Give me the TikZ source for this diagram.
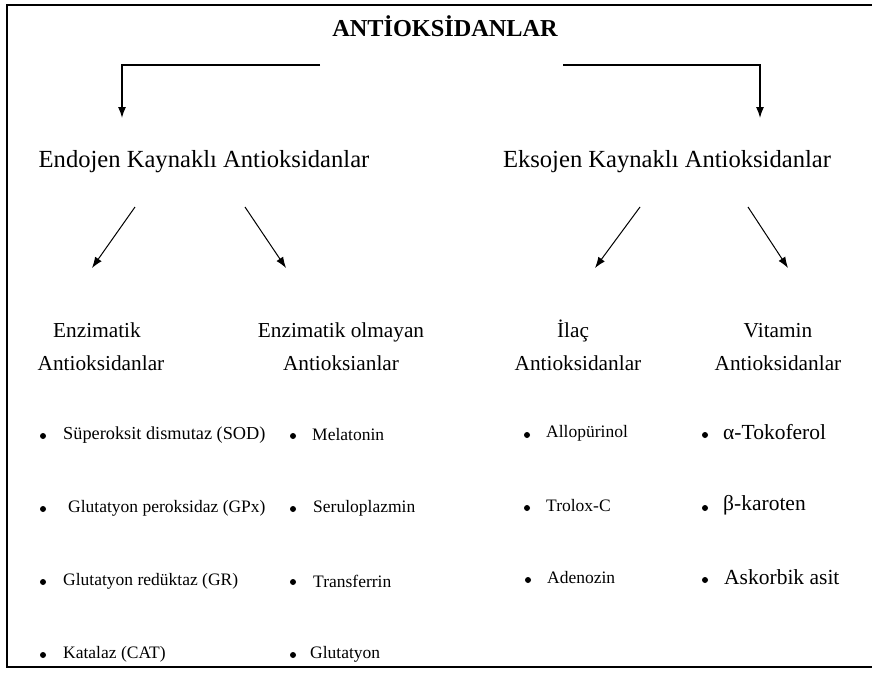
\documentclass[tikz,border=0pt]{standalone}
\usepackage{fontspec}
\setmainfont{Liberation Serif}
\usetikzlibrary{arrows.meta}

\tikzset{
  baslik/.style={font=\fontsize{21.3}{25}\selectfont, inner sep=0pt, anchor=base},
  ustbaslik/.style={font=\fontsize{24.6}{29}\selectfont, inner sep=0pt, anchor=base},
  madde/.style={font=\fontsize{17.5}{21}\selectfont, inner sep=0pt, anchor=west},
  buyukmadde/.style={font=\fontsize{21.5}{25}\selectfont, inner sep=0pt, anchor=west},
  nokta/.style={circle, fill=black, inner sep=0pt, minimum size=6pt},
}

\begin{document}
\begin{tikzpicture}[x=1pt, y=-1pt, >={Latex[length=11pt,width=8pt]}]

    \useasboundingbox (0,0) rectangle (872,673);

    % 1. Cerceve
    \draw[line width=2.5pt] (872,5) -- (7,5) -- (7,667) -- (872,667);

    % 2. Ana baslik
    \node[baslik, font=\fontsize{24.3}{28}\selectfont\bfseries] (ana) at (445,36) {ANT\.IOKS\.IDANLAR};

    % 3. Endojen / Eksojen
    \node[ustbaslik] (endo) at (204,167) {Endojen Kaynaklı Antioksidanlar};
    \node[ustbaslik] (ekso) at (667,167) {Eksojen Kaynaklı Antioksidanlar};

    \coordinate (sol) at (320,65);
    \coordinate (sag) at (563,65);
    \coordinate (solok) at (122,118);
    \coordinate (sagok) at (760,118);
    \draw[->, line width=1.3pt] (sol) -| (solok);
    \draw[->, line width=1.3pt] (sag) -| (sagok);

    % 4. Capraz oklar
    \coordinate (e1) at (135,207); \coordinate (e1u) at (92,268);
    \coordinate (e2) at (245,207); \coordinate (e2u) at (286,268);
    \coordinate (k1) at (640,207); \coordinate (k1u) at (595,268);
    \coordinate (k2) at (748,207); \coordinate (k2u) at (788,268);
    \draw[->, line width=1pt] (e1) -- (e1u);
    \draw[->, line width=1pt] (e2) -- (e2u);
    \draw[->, line width=1pt] (k1) -- (k1u);
    \draw[->, line width=1pt] (k2) -- (k2u);

    % 5. Alt basliklar
    \node[baslik] (enz1) at (97,337) {Enzimatik};
    \node[baslik] (enz2) at (101,370) {Antioksidanlar};
    \node[baslik] (olm1) at (341,337) {Enzimatik olmayan};
    \node[baslik] (olm2) at (341,370) {Antioksianlar};
    \node[baslik] (ilc1) at (573,337) {İlaç};
    \node[baslik] (ilc2) at (578,370) {Antioksidanlar};
    \node[baslik] (vit1) at (778,337) {Vitamin};
    \node[baslik] (vit2) at (778,370) {Antioksidanlar};

    % 6. Maddeler
    \node[nokta] (n1) at (43,436) {};
    \node[madde, font=\fontsize{18.3}{21}\selectfont] (m1) at (63,435) {Süperoksit dismutaz (SOD)};
    \node[nokta] (n2) at (43,509) {};
    \node[madde] (m2) at (68,508) {Glutatyon peroksidaz (GPx)};
    \node[nokta] (n3) at (43,582) {};
    \node[madde] (m3) at (63,581) {Glutatyon redüktaz (GR)};
    \node[nokta] (n4) at (43,655) {};
    \node[madde] (m4) at (63,654) {Katalaz (CAT)};

    \node[nokta] (n5) at (293,436) {};
    \node[madde] (m5) at (312,435) {Melatonin};
    \node[nokta] (n6) at (293,509) {};
    \node[madde] (m6) at (313,508) {Seruloplazmin};
    \node[nokta] (n7) at (293,582) {};
    \node[madde] (m7) at (313,581) {Transferrin};
    \node[nokta] (n8) at (293,655) {};
    \node[madde] (m8) at (310,654) {Glutatyon};

    \node[nokta] (n9) at (527,435) {};
    \node[madde] (m9) at (546,433) {Allopürinol};
    \node[nokta] (n10) at (527,508) {};
    \node[madde] (m10) at (546,506) {Trolox-C};
    \node[nokta] (n11) at (528,580) {};
    \node[madde] (m11) at (547,578) {Adenozin};

    \node[nokta] (n12) at (705,435) {};
    \node[buyukmadde] (m12) at (723,432) {α-Tokoferol};
    \node[nokta] (n13) at (705,508) {};
    \node[buyukmadde] (m13) at (723,505) {β-karoten};
    \node[nokta] (n14) at (705,580) {};
    \node[buyukmadde] (m14) at (724,577) {Askorbik asit};

\end{tikzpicture}
\end{document}
